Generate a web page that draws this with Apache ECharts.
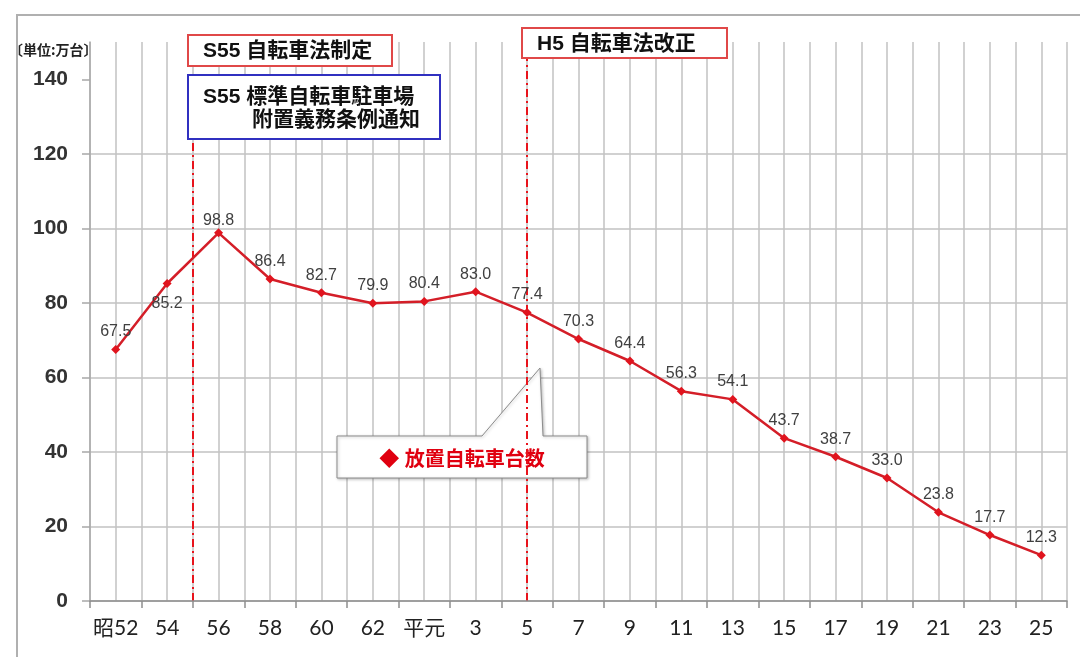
<!DOCTYPE html>
<html><head><meta charset="utf-8">
<script src="https://cdn.jsdelivr.net/npm/echarts@6/dist/echarts.min.js"></script>
<style>html,body{margin:0;padding:0;background:#fff}#c{width:1080px;height:657px}</style>
</head><body><div id="c"></div>
<script>
// ---- data ----
const categories = ['昭52','54','56','58','60','62','平元','3','5','7','9','11','13','15','17','19','21','23','25'];
const values = [67.5,85.2,98.8,86.4,82.7,79.9,80.4,83.0,77.4,70.3,64.4,56.3,54.1,43.7,38.7,33.0,23.8,17.7,12.3];
const yTicks = [0,20,40,60,80,100,120,140];
const seriesName = '放置自転車台数';
const unitLabel = '〔単位:万台〕';
// years counted from 昭52 (0) ; S55 = 3, H5 = 16
const eventYears = [3, 16];
const eventTexts = ['S55 自転車法制定', 'H5 自転車法改正'];
const noticeLines = ['S55 標準自転車駐車場', '附置義務条例通知'];

// ---- chart ----
const cjk = "'Liberation Sans','Noto Sans CJK JP',sans-serif";
const grid = '#c2c2c2';
const data = values.map((v, i) => {
  const item = { value: v };
  if (i === 1) item.label = { position: 'bottom', distance: 8 };
  if (i === 2) item.label = { distance: 0 };
  return item;
});
const chart = echarts.init(document.getElementById('c'));
chart.setOption({
  animation: false,
  backgroundColor: '#fff',
  grid: { left: 90, right: 13, top: 42, bottom: 56, containLabel: false },
  xAxis: [
    {
      type: 'category', data: categories, boundaryGap: true, position: 'bottom',
      axisLine: { onZero: false, lineStyle: { color: '#8f8f8f', width: 1.5 } },
      axisTick: { show: true, length: 7, lineStyle: { color: '#8f8f8f', width: 1.5 } },
      axisLabel: { fontSize: 21, color: '#222', margin: 17, fontFamily: "Lato,'Noto Sans CJK JP',sans-serif", interval: 0 },
      splitLine: { show: false }, z: 3
    },
    {
      type: 'value', min: -1, max: 37, interval: 1, position: 'bottom',
      axisLine: { show: false, onZero: false }, axisTick: { show: false }, axisLabel: { show: false },
      splitLine: { show: true, lineStyle: { color: grid, width: 1.5 } }
    }
  ],
  yAxis: {
    type: 'value', min: 0, max: 150, interval: 20, position: 'left',
    axisLine: { show: true, onZero: false, lineStyle: { color: '#a8a8a8', width: 1.5 } },
    axisTick: { show: true, length: 8, customValues: yTicks, lineStyle: { color: '#a8a8a8', width: 1.5 } },
    axisLabel: { customValues: yTicks, formatter: v => (v > 140 ? '' : String(v)), fontSize: 21, fontWeight: 'bold', color: '#333', margin: 22, fontFamily: "'Liberation Sans',Arial,sans-serif" },
    splitLine: { show: true, showMaxLine: false, lineStyle: { color: grid, width: 1.5 } }
  },
  series: [
    {
      type: 'line', name: seriesName, xAxisIndex: 0, yAxisIndex: 0, data: data,
      symbol: 'diamond', symbolSize: 9, z: 4,
      lineStyle: { color: '#d41e28', width: 2.5 },
      itemStyle: { color: '#e0141e' },
      label: { show: true, position: 'top', distance: 5, fontSize: 16, color: '#404040',
        fontFamily: "'Liberation Sans',Arial,sans-serif", formatter: p => Number(p.value).toFixed(1) }
    },
    {
      type: 'line', xAxisIndex: 1, yAxisIndex: 0, data: [], silent: true,
      markLine: {
        symbol: 'none', silent: true, label: { show: false }, z: 3,
        lineStyle: { color: '#e8141c', type: [8, 4, 2, 4], width: 2 },
        data: [
          [{ coord: [eventYears[0], 0] }, { coord: [eventYears[0], 123] }],
          [{ coord: [eventYears[1], 0] }, { coord: [eventYears[1], 145.5] }]
        ]
      }
    }
  ],
  graphic: [
    { type: 'polyline', z: 0, silent: true, shape: { points: [[17, 657], [17, 15], [1080, 15]] }, style: { stroke: '#b0b0b0', lineWidth: 2, fill: null } },
    { type: 'text', left: 9, top: 43, z: 10, style: { text: unitLabel, font: "bold 14px 'Noto Sans CJK JP'", fill: '#222' } },
    // callout
    { type: 'polygon', z: 1, silent: true,
      shape: { points: [[337, 436], [482, 436], [540, 368], [543, 436], [587, 436], [587, 478], [337, 478]] },
      style: { fill: '#fff', stroke: '#8c8c8c', lineWidth: 1, shadowColor: 'rgba(0,0,0,0.25)', shadowBlur: 3, shadowOffsetX: 1, shadowOffsetY: 1 } },
    { type: 'text', x: 462, y: 460, z: 2, style: { text: '◆ ' + seriesName, font: "bold 20px " + cjk, fill: '#e00010', align: 'center', verticalAlign: 'middle' } },
    // event boxes
    { type: 'rect', z: 20, shape: { x: 188, y: 35, width: 204, height: 31 }, style: { fill: '#fff', stroke: '#e04848', lineWidth: 2 } },
    { type: 'text', x: 203, y: 51, z: 21, style: { text: eventTexts[0], font: "bold 21px " + cjk, fill: '#111', verticalAlign: 'middle' } },
    { type: 'rect', z: 20, shape: { x: 188, y: 75, width: 252, height: 64 }, style: { fill: '#fff', stroke: '#3030c0', lineWidth: 2 } },
    { type: 'text', x: 203, y: 97, z: 21, style: { text: noticeLines[0], font: "bold 21px " + cjk, fill: '#111', verticalAlign: 'middle' } },
    { type: 'text', x: 420, y: 120, z: 21, style: { text: noticeLines[1], font: "bold 21px " + cjk, fill: '#111', align: 'right', verticalAlign: 'middle' } },
    { type: 'rect', z: 20, shape: { x: 522, y: 28, width: 205, height: 30 }, style: { fill: '#fff', stroke: '#e04848', lineWidth: 2 } },
    { type: 'text', x: 537, y: 44, z: 21, style: { text: eventTexts[1], font: "bold 21px " + cjk, fill: '#111', verticalAlign: 'middle' } }
  ]
});
</script>
</body></html>
